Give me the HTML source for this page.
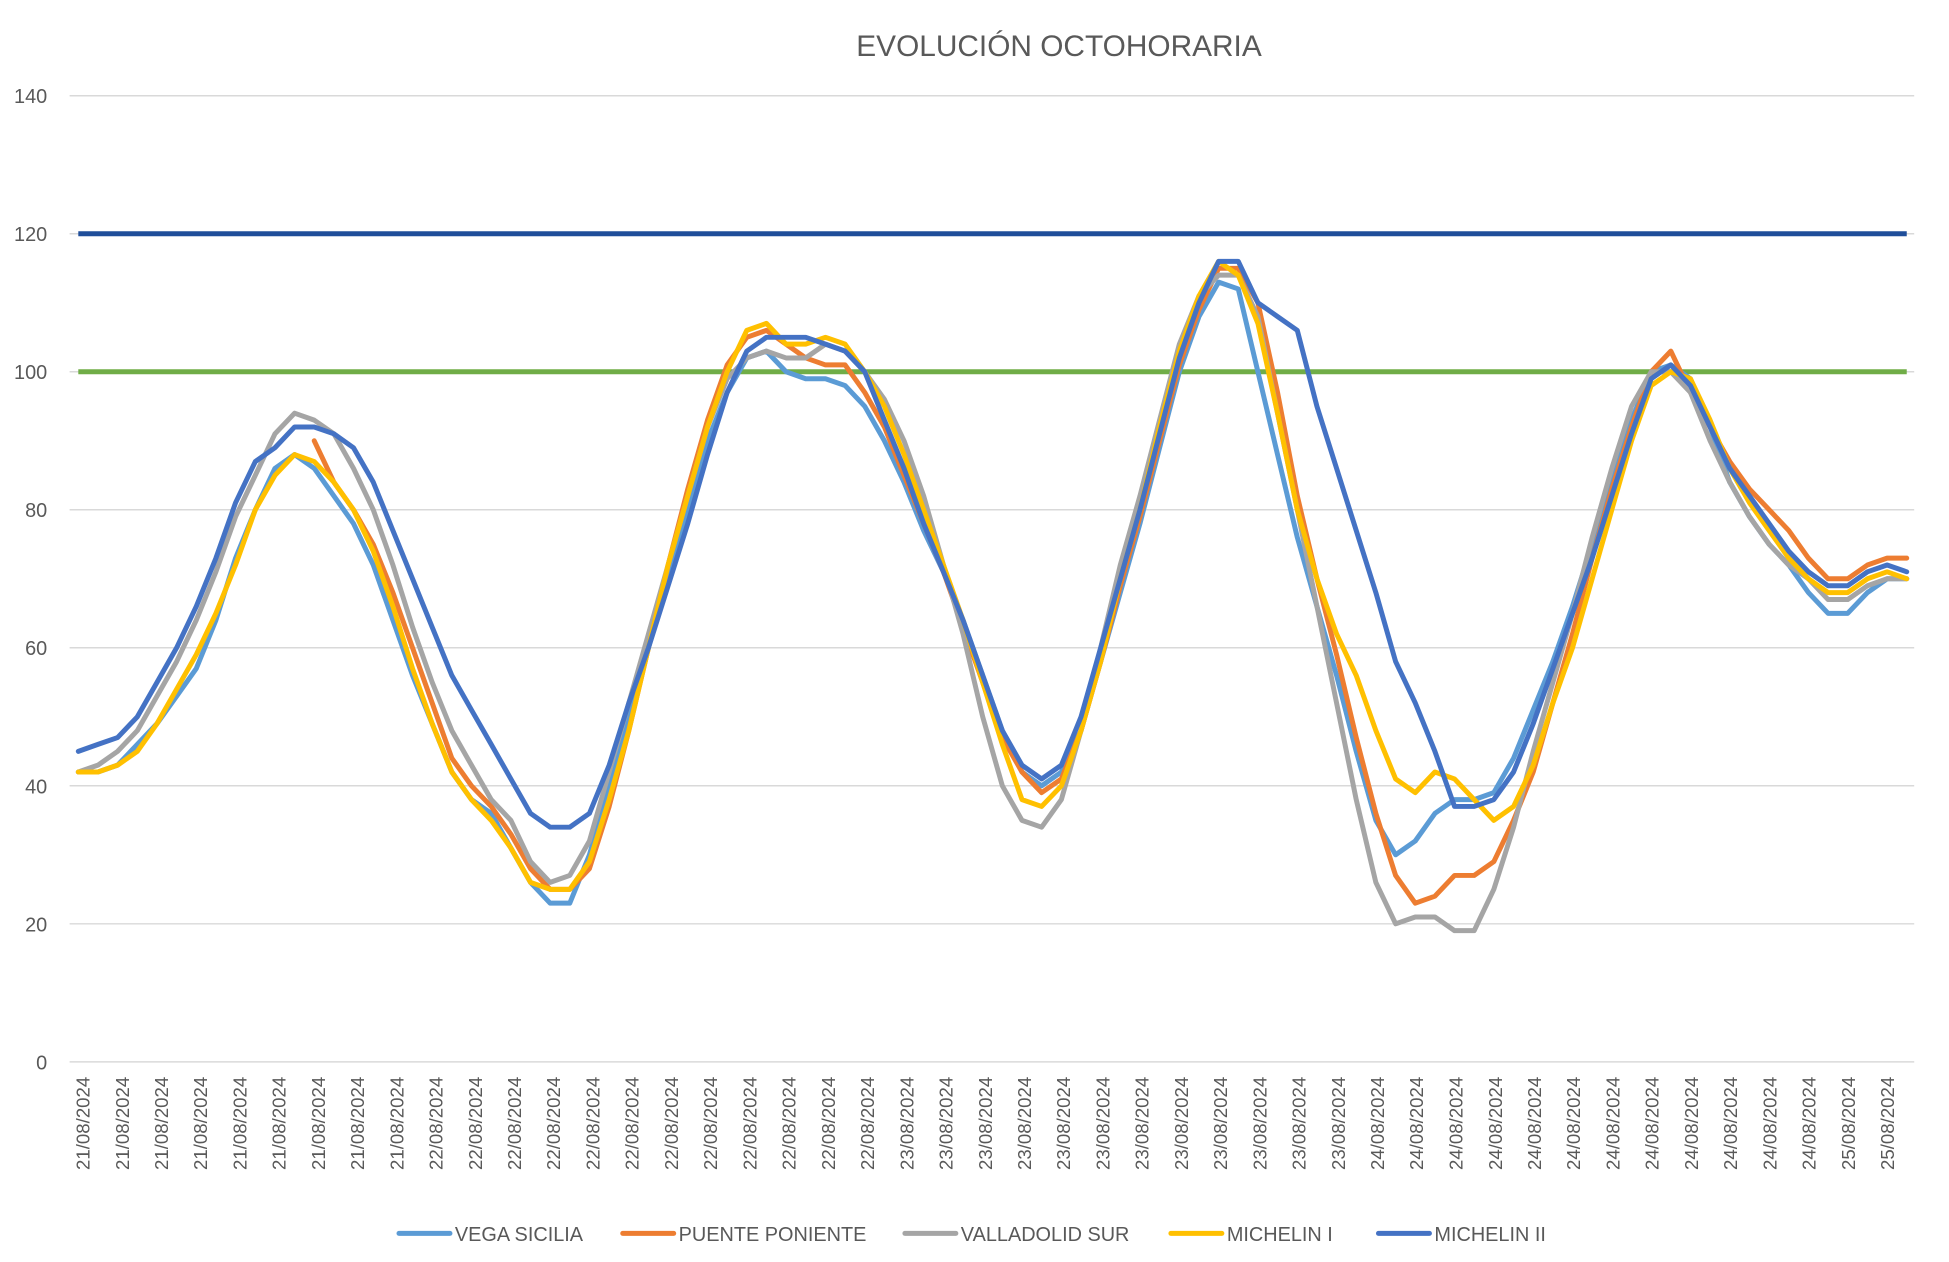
<!DOCTYPE html>
<html><head><meta charset="utf-8"><style>
html,body{margin:0;padding:0;background:#fff;}
svg{display:block;}
text{font-family:"Liberation Sans",sans-serif;fill:#595959;}
.xl{font-size:15px;}
</style></head><body>
<svg id="s" width="1949" height="1262" viewBox="0 0 1568 1015" preserveAspectRatio="none" xmlns="http://www.w3.org/2000/svg">
<rect width="1568" height="1015" fill="#fff"/>
<text x="852" y="45" font-size="24" text-anchor="middle">EVOLUCIÓN OCTOHORARIA</text>
<g stroke="#d9d9d9" stroke-width="1.2">
<line x1="56" x2="1540" y1="77" y2="77"/><line x1="56" x2="1540" y1="188" y2="188"/><line x1="56" x2="1540" y1="299" y2="299"/><line x1="56" x2="1540" y1="410" y2="410"/><line x1="56" x2="1540" y1="521" y2="521"/><line x1="56" x2="1540" y1="632" y2="632"/><line x1="56" x2="1540" y1="743" y2="743"/><line x1="56" x2="1540" y1="854" y2="854"/>
</g>
<g font-size="16" text-anchor="end">
<text x="38" y="83">140</text><text x="38" y="194">120</text><text x="38" y="305">100</text><text x="38" y="416">80</text><text x="38" y="527">60</text><text x="38" y="638">40</text><text x="38" y="749">20</text><text x="38" y="860">0</text>
</g>
<line x1="63" x2="1534" y1="188" y2="188" stroke="#1f4e9a" stroke-width="4"/>
<line x1="63" x2="1534" y1="299" y2="299" stroke="#70ad47" stroke-width="4"/>
<g id="series" fill="none" stroke-width="4" stroke-linejoin="round" stroke-linecap="round"></g>
<g class="xl" text-anchor="end" transform="translate(5,0)">
<text transform="translate(67,866) rotate(-90)">21/08/2024</text>
<text transform="translate(98.6,866) rotate(-90)">21/08/2024</text>
<text transform="translate(130.1,866) rotate(-90)">21/08/2024</text>
<text transform="translate(161.7,866) rotate(-90)">21/08/2024</text>
<text transform="translate(193.2,866) rotate(-90)">21/08/2024</text>
<text transform="translate(224.8,866) rotate(-90)">21/08/2024</text>
<text transform="translate(256.4,866) rotate(-90)">21/08/2024</text>
<text transform="translate(287.9,866) rotate(-90)">21/08/2024</text>
<text transform="translate(319.5,866) rotate(-90)">21/08/2024</text>
<text transform="translate(351,866) rotate(-90)">22/08/2024</text>
<text transform="translate(382.6,866) rotate(-90)">22/08/2024</text>
<text transform="translate(414.2,866) rotate(-90)">22/08/2024</text>
<text transform="translate(445.7,866) rotate(-90)">22/08/2024</text>
<text transform="translate(477.3,866) rotate(-90)">22/08/2024</text>
<text transform="translate(508.8,866) rotate(-90)">22/08/2024</text>
<text transform="translate(540.4,866) rotate(-90)">22/08/2024</text>
<text transform="translate(572,866) rotate(-90)">22/08/2024</text>
<text transform="translate(603.5,866) rotate(-90)">22/08/2024</text>
<text transform="translate(635.1,866) rotate(-90)">22/08/2024</text>
<text transform="translate(666.6,866) rotate(-90)">22/08/2024</text>
<text transform="translate(698.2,866) rotate(-90)">22/08/2024</text>
<text transform="translate(729.8,866) rotate(-90)">23/08/2024</text>
<text transform="translate(761.3,866) rotate(-90)">23/08/2024</text>
<text transform="translate(792.9,866) rotate(-90)">23/08/2024</text>
<text transform="translate(824.4,866) rotate(-90)">23/08/2024</text>
<text transform="translate(856,866) rotate(-90)">23/08/2024</text>
<text transform="translate(887.6,866) rotate(-90)">23/08/2024</text>
<text transform="translate(919.1,866) rotate(-90)">23/08/2024</text>
<text transform="translate(950.7,866) rotate(-90)">23/08/2024</text>
<text transform="translate(982.2,866) rotate(-90)">23/08/2024</text>
<text transform="translate(1013.8,866) rotate(-90)">23/08/2024</text>
<text transform="translate(1045.4,866) rotate(-90)">23/08/2024</text>
<text transform="translate(1076.9,866) rotate(-90)">23/08/2024</text>
<text transform="translate(1108.5,866) rotate(-90)">24/08/2024</text>
<text transform="translate(1140,866) rotate(-90)">24/08/2024</text>
<text transform="translate(1171.6,866) rotate(-90)">24/08/2024</text>
<text transform="translate(1203.2,866) rotate(-90)">24/08/2024</text>
<text transform="translate(1234.7,866) rotate(-90)">24/08/2024</text>
<text transform="translate(1266.3,866) rotate(-90)">24/08/2024</text>
<text transform="translate(1297.8,866) rotate(-90)">24/08/2024</text>
<text transform="translate(1329.4,866) rotate(-90)">24/08/2024</text>
<text transform="translate(1361,866) rotate(-90)">24/08/2024</text>
<text transform="translate(1392.5,866) rotate(-90)">24/08/2024</text>
<text transform="translate(1424.1,866) rotate(-90)">24/08/2024</text>
<text transform="translate(1455.6,866) rotate(-90)">24/08/2024</text>
<text transform="translate(1487.2,866) rotate(-90)">25/08/2024</text>
<text transform="translate(1518.8,866) rotate(-90)">25/08/2024</text>
</g>
<g font-size="16" stroke-width="4" stroke-linecap="round">
<line x1="321" x2="362" y1="992" y2="992" stroke="#5b9bd5"/><text x="366" y="998">VEGA SICILIA</text>
<line x1="501" x2="542" y1="992" y2="992" stroke="#ed7d31"/><text x="546" y="998">PUENTE PONIENTE</text>
<line x1="728" x2="769" y1="992" y2="992" stroke="#a5a5a5"/><text x="773" y="998">VALLADOLID SUR</text>
<line x1="942" x2="983" y1="992" y2="992" stroke="#ffc000"/><text x="987" y="998">MICHELIN I</text>
<line x1="1109" x2="1150" y1="992" y2="992" stroke="#4472c4"/><text x="1154" y="998">MICHELIN II</text>
</g>
</svg>
<script>
var S=[
["#5b9bd5",0,[42,42,43,46,49,53,57,64,73,80,86,88,86,82,78,72,64,56,49,42,38,36,31,26,23,23,30,40,50,60,70,80,90,97,102,103,100,99,99,98,95,90,84,77,71,64,56,48,42,40,42,48,58,68,78,89,100,108,113,112,100,88,76,66,56,45,35,30,32,36,38,38,39,44,51,58,66,75,84,93,100,101,99,92,84,79,75,72,68,65,65,68,70,70]],
["#ed7d31",12,[90,84,80,75,68,60,52,44,40,37,33,28,25,25,28,37,48,60,72,83,93,101,105,106,104,102,101,101,97,92,85,78,71,63,55,47,42,39,41,48,58,69,79,90,101,109,115,115,110,97,82,70,59,47,36,27,23,24,27,27,29,35,42,52,62,73,83,92,100,103,97,92,87,83,80,77,73,70,70,72,73,73]],
["#a5a5a5",0,[42,43,45,48,53,58,64,71,79,85,91,94,93,91,86,80,72,63,55,48,43,38,35,29,26,27,32,42,52,62,72,82,92,99,102,103,102,102,104,103,100,96,90,82,72,62,50,40,35,34,38,48,60,72,82,93,104,111,114,114,108,94,80,66,52,38,26,20,21,21,19,19,25,34,45,55,65,76,86,95,100,100,97,90,84,79,75,72,70,67,67,69,70,70]],
["#ffc000",0,[42,42,43,45,49,54,59,65,72,80,85,88,87,84,80,74,66,57,49,42,38,35,31,26,25,25,29,38,48,60,72,82,92,100,106,107,104,104,105,104,100,95,88,80,72,64,55,46,38,37,40,48,58,70,80,92,103,111,116,114,107,94,80,70,62,56,48,41,39,42,41,38,35,37,43,52,60,70,80,90,98,100,99,93,86,81,77,73,70,68,68,70,71,70]],
["#4472c4",0,[45,46,47,50,55,60,66,73,81,87,89,92,92,91,89,84,77,70,63,56,51,46,41,36,34,34,36,43,52,60,69,78,88,97,103,105,105,105,104,103,100,93,86,78,71,64,56,48,43,41,43,50,60,70,80,91,102,110,116,116,110,108,106,95,86,77,68,58,52,45,37,37,38,42,49,57,65,73,82,91,99,101,98,92,86,82,78,74,71,69,69,71,72,71]]
];
var g=document.getElementById("series"),ns="http://www.w3.org/2000/svg";
S.forEach(function(s){var d="";s[2].forEach(function(v,k){var i=k+s[1];if(i>93)return;var x=63+i*1471/93,y=854-5.55*v;d+=(d?"L":"M")+x.toFixed(1)+","+y.toFixed(1);});
var p=document.createElementNS(ns,"path");p.setAttribute("d",d);p.setAttribute("stroke",s[0]);g.appendChild(p);});
</script>
</body></html>
